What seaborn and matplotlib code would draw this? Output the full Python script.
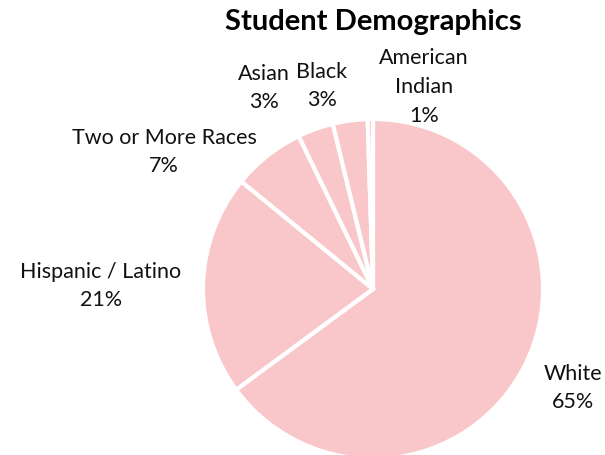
import matplotlib
matplotlib.use("Agg")
import matplotlib.pyplot as plt
import seaborn as sns

sns.set_theme(style="white")
plt.rcParams['font.family'] = ['Lato', 'DejaVu Sans']

categories = ["White", "Hispanic / Latino", "Two or More Races", "Asian", "Black", "American\nIndian"]
values = [64.9, 21.0, 6.9, 3.4, 3.3, 0.5]
pct_labels = ["65%", "21%", "7%", "3%", "3%", "1%"]
label_pixels = [(573, 388), (101, 286), (164, 152), (264, 88), (322, 86), (424, 87)]

W, H = 605, 456
cx, cy, R = 373, 290, 170

fig = plt.figure(figsize=(W / 100, H / 100), dpi=100)
ax = fig.add_axes([0, 0, 1, 1])
color = "#F9C7CA"
wedges, _ = ax.pie(values, startangle=90, counterclock=False, colors=[color] * len(values),
                   wedgeprops=dict(edgecolor="white", linewidth=3))
ax.set_xlim(-cx / R, (W - cx) / R)
ax.set_ylim(-(H - cy) / R, cy / R)
ax.set_aspect('auto')
ax.axis('off')

for name, p, (px, py) in zip(categories, pct_labels, label_pixels):
    ax.text(px / W, 1 - py / H, f"{name}\n{p}", transform=ax.transAxes,
            ha="center", va="center", fontsize=15.5, color="#111111", linespacing=1.55)

fig.text(cx / W, 1 - 22 / H, "Student Demographics", ha="center", va="center",
         fontsize=21, fontweight="bold", color="black")

fig.savefig("out.png", dpi=100)
